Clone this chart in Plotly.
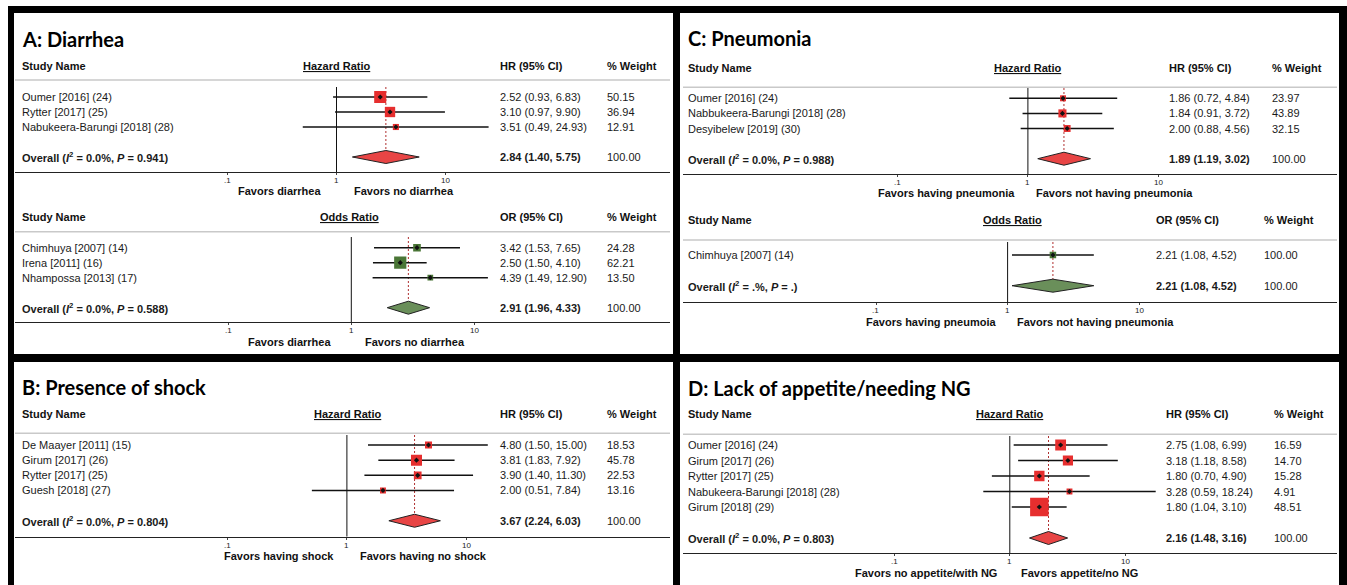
import math
import plotly.graph_objects as go

W, H = 1347, 585

# ---------------- data ----------------
# A: Diarrhea (hazard ratios)
A_HR_STUDIES = ["Oumer [2016] (24)", "Rytter [2017] (25)", "Nabukeera-Barungi [2018] (28)"]
A_HR_EST = [2.52, 3.10, 3.51]
A_HR_LO = [0.93, 0.97, 0.49]
A_HR_HI = [6.83, 9.90, 24.93]
A_HR_WT = [50.15, 36.94, 12.91]
A_HR_POOLED = [2.84, 1.40, 5.75]
A_HR_HET = ["0.0", "0.941"]

# A: Diarrhea (odds ratios)
A_OR_STUDIES = ["Chimhuya [2007] (14)", "Irena [2011] (16)", "Nhampossa [2013] (17)"]
A_OR_EST = [3.42, 2.50, 4.39]
A_OR_LO = [1.53, 1.50, 1.49]
A_OR_HI = [7.65, 4.10, 12.90]
A_OR_WT = [24.28, 62.21, 13.50]
A_OR_POOLED = [2.91, 1.96, 4.33]
A_OR_HET = ["0.0", "0.588"]

# B: Presence of shock (hazard ratios)
B_STUDIES = ["De Maayer [2011] (15)", "Girum [2017] (26)", "Rytter [2017] (25)", "Guesh [2018] (27)"]
B_EST = [4.80, 3.81, 3.90, 2.00]
B_LO = [1.50, 1.83, 1.40, 0.51]
B_HI = [15.00, 7.92, 11.30, 7.84]
B_WT = [18.53, 45.78, 22.53, 13.16]
B_POOLED = [3.67, 2.24, 6.03]
B_HET = ["0.0", "0.804"]

# C: Pneumonia (hazard ratios)
C_HR_STUDIES = ["Oumer [2016] (24)", "Nabbukeera-Barungi [2018] (28)", "Desyibelew [2019] (30)"]
C_HR_EST = [1.86, 1.84, 2.00]
C_HR_LO = [0.72, 0.91, 0.88]
C_HR_HI = [4.84, 3.72, 4.56]
C_HR_WT = [23.97, 43.89, 32.15]
C_HR_POOLED = [1.89, 1.19, 3.02]
C_HR_HET = ["0.0", "0.988"]

# C: Pneumonia (odds ratios)
C_OR_STUDIES = ["Chimhuya [2007] (14)"]
C_OR_EST = [2.21]
C_OR_LO = [1.08]
C_OR_HI = [4.52]
C_OR_WT = [100.00]
C_OR_POOLED = [2.21, 1.08, 4.52]
C_OR_HET = [".", "."]

# D: Lack of appetite / needing NG (hazard ratios)
D_STUDIES = ["Oumer [2016] (24)", "Girum [2017] (26)", "Rytter [2017] (25)",
             "Nabukeera-Barungi [2018] (28)", "Girum [2018] (29)"]
D_EST = [2.75, 3.18, 1.80, 3.28, 1.80]
D_LO = [1.08, 1.18, 0.70, 0.59, 1.04]
D_HI = [6.99, 8.58, 4.90, 18.24, 3.10]
D_WT = [16.59, 14.70, 15.28, 4.91, 48.51]
D_POOLED = [2.16, 1.48, 3.16]
D_HET = ["0.0", "0.803"]

OVERALL_WT = 100.00

TICK_VALS = [0.1, 1, 10]
TICK_TEXT = [".1", "1", "10"]

PANEL_TITLES = ["A: Diarrhea", "B: Presence of shock", "C: Pneumonia", "D: Lack of appetite/needing NG"]

PANELS = [
    dict(studies=A_HR_STUDIES, est=A_HR_EST, lo=A_HR_LO, hi=A_HR_HI, wt=A_HR_WT,
         pooled=A_HR_POOLED, het=A_HR_HET, measure="HR", ratio="Hazard Ratio",
         favors=("Favors diarrhea", "Favors no diarrhea"), scheme="red"),
    dict(studies=A_OR_STUDIES, est=A_OR_EST, lo=A_OR_LO, hi=A_OR_HI, wt=A_OR_WT,
         pooled=A_OR_POOLED, het=A_OR_HET, measure="OR", ratio="Odds Ratio",
         favors=("Favors diarrhea", "Favors no diarrhea"), scheme="green"),
    dict(studies=B_STUDIES, est=B_EST, lo=B_LO, hi=B_HI, wt=B_WT,
         pooled=B_POOLED, het=B_HET, measure="HR", ratio="Hazard Ratio",
         favors=("Favors having shock", "Favors having no shock"), scheme="red"),
    dict(studies=C_HR_STUDIES, est=C_HR_EST, lo=C_HR_LO, hi=C_HR_HI, wt=C_HR_WT,
         pooled=C_HR_POOLED, het=C_HR_HET, measure="HR", ratio="Hazard Ratio",
         favors=("Favors having pneumonia", "Favors not having pneumonia"), scheme="red"),
    dict(studies=C_OR_STUDIES, est=C_OR_EST, lo=C_OR_LO, hi=C_OR_HI, wt=C_OR_WT,
         pooled=C_OR_POOLED, het=C_OR_HET, measure="OR", ratio="Odds Ratio",
         favors=("Favors having pneumoia", "Favors not having pneumonia"), scheme="green"),
    dict(studies=D_STUDIES, est=D_EST, lo=D_LO, hi=D_HI, wt=D_WT,
         pooled=D_POOLED, het=D_HET, measure="HR", ratio="Hazard Ratio",
         favors=("Favors no appetite/with NG", "Favors appetite/no NG"), scheme="red"),
]

# ---------------- layout geometry (pixels) ----------------
GEOM = [
    dict(left=15, right=670, x1=336.5, dec=108.9, first=97, pitch=15, head=66, rule=80, top=87,
         axis=172, name_x=20, est_x=498, wt_x=605, ratio_dx=0, fav=(14, 15), box_k=1.7),
    dict(left=15, right=670, x1=351.3, dec=123.0, first=247.7, pitch=15, head=216.7, rule=231.7, top=237,
         axis=322.3, name_x=20, est_x=498, wt_x=605, ratio_dx=-2, fav=(18, 12), box_k=1.55),
    dict(left=15, right=670, x1=346.9, dec=119.8, first=445, pitch=15.15, head=414.3, rule=433.3, top=435,
         axis=536.7, name_x=20, est_x=498, wt_x=605, ratio_dx=1, fav=(11, 11), box_k=1.63),
    dict(left=683, right=1337, x1=1027.9, dec=130.4, first=98.3, pitch=15.1, head=68.3, rule=87.3, top=88,
         axis=174, name_x=686, est_x=1167, wt_x=1270, ratio_dx=0, fav=(11, 6), box_k=1.22),
    dict(left=683, right=1337, x1=1007.6, dec=131.6, first=255, pitch=15.35, head=220, rule=240, top=242,
         axis=302.3, name_x=686, est_x=1153.5, wt_x=1261.5, ratio_dx=5, fav=(10, 7), box_k=0.65),
    dict(left=683, right=1337, x1=1009.8, dec=115.7, first=445, pitch=15.5, head=414.3, rule=434.3, top=436,
         axis=553.3, name_x=686, est_x=1163.5, wt_x=1271.5, ratio_dx=0, fav=(11, 9), box_k=2.65),
]

TITLE_POS = [(20, 39), (20, 387), (686, 38.5), (686, 387.5)]

SCHEMES = {
    "red": dict(box="#E62E2E", diamond="#E84545"),
    "green": dict(box="#4A7636", diamond="#6A8F5A"),
}

BODY_FONT = "Liberation Sans, Arial, sans-serif"
TITLE_FONT = "Lato, Open Sans, sans-serif"
TEXT_COL = "#1a1a1a"


def fx(x):
    return x / W


def fy(y):
    return 1 - y / H


fig = go.Figure()
layout = dict(width=W, height=H, margin=dict(l=0, r=0, t=0, b=0),
              paper_bgcolor="white", plot_bgcolor="rgba(0,0,0,0)", showlegend=False)
shapes = []
annotations = []

for k, (p, g) in enumerate(zip(PANELS, GEOM), start=1):
    xa = "x" if k == 1 else f"x{k}"
    ya = "y" if k == 1 else f"y{k}"
    n = len(p["studies"])
    ov = n + 1
    rows = list(range(n))
    top_u = (g["top"] - g["first"]) / g["pitch"]
    bot_u = (g["axis"] - g["first"]) / g["pitch"]
    dh = 6.5 / g["pitch"]
    col = SCHEMES[p["scheme"]]

    layout["xaxis" if k == 1 else f"xaxis{k}"] = dict(
        type="log",
        range=[(g["left"] - g["x1"]) / g["dec"], (g["right"] - g["x1"]) / g["dec"]],
        domain=[fx(g["left"]), fx(g["right"])], anchor=ya,
        showgrid=False, zeroline=False, showline=True, linecolor="#222", linewidth=1.3,
        ticks="outside", ticklen=2, tickcolor="#444", tickwidth=1,
        tickvals=TICK_VALS, showticklabels=False, fixedrange=True,
    )
    layout["yaxis" if k == 1 else f"yaxis{k}"] = dict(
        range=[bot_u, top_u], domain=[fy(g["axis"]), fy(g["top"])], anchor=xa,
        visible=False, fixedrange=True,
    )

    common = dict(xaxis=xa, yaxis=ya, hoverinfo="skip", showlegend=False)

    # null line at ratio = 1
    fig.add_trace(go.Scatter(x=[1, 1], y=[top_u, bot_u], mode="lines",
                             line=dict(color="#111", width=1), **common))
    # pooled estimate reference line
    fig.add_trace(go.Scatter(x=[p["pooled"][0]] * 2, y=[top_u, ov - dh], mode="lines",
                             line=dict(color="#B03030", width=1, dash="2px,2px"), **common))
    # confidence intervals
    cx, cy = [], []
    for i in rows:
        cx += [p["lo"][i], p["hi"][i], None]
        cy += [i, i, None]
    fig.add_trace(go.Scatter(x=cx, y=cy, mode="lines", line=dict(color="#111", width=1.5), **common))
    # weight boxes
    fig.add_trace(go.Scatter(x=p["est"], y=rows, mode="markers", opacity=1,
                             marker=dict(symbol="square", color=col["box"], opacity=1,
                                         size=[g["box_k"] * math.sqrt(w) for w in p["wt"]],
                                         line=dict(width=0)), **common))
    # point estimates
    fig.add_trace(go.Scatter(x=p["est"], y=rows, mode="markers",
                             marker=dict(symbol="diamond", color="#111", size=4, opacity=1,
                                         line=dict(width=0)), **common))
    # pooled diamond
    pe, pl, ph = p["pooled"]
    fig.add_trace(go.Scatter(x=[pl, pe, ph, pe, pl], y=[ov, ov - dh, ov, ov + dh, ov],
                             mode="lines", fill="toself", fillcolor=col["diamond"],
                             line=dict(color="#222", width=1), **common))

    # axis tick labels
    tick_font = dict(family=BODY_FONT, size=8, color=TEXT_COL)
    for tv, tt in zip(TICK_VALS, TICK_TEXT):
        annotations.append(dict(text=tt, x=math.log10(tv), xref=xa, y=fy(g["axis"] + 8.5), yref="paper",
                                xanchor="center", yanchor="middle", showarrow=False, font=tick_font))

    # header row
    head_font = dict(family=BODY_FONT, size=11, color="#111")
    hy = fy(g["head"])
    hdr = [
        dict(text="<b>Study Name</b>", x=fx(g["name_x"]), xref="paper", xanchor="left"),
        dict(text=f"<b><u>{p['ratio']}</u></b>", x=0, xref=xa, xshift=g["ratio_dx"], xanchor="center"),
        dict(text=f"<b>{p['measure']} (95% CI)</b>", x=fx(g["est_x"]), xref="paper", xanchor="left"),
        dict(text="<b>% Weight</b>", x=fx(g["wt_x"]), xref="paper", xanchor="left"),
    ]
    for a in hdr:
        a.update(y=hy, yref="paper", yanchor="middle", showarrow=False, font=head_font)
    annotations += hdr

    shapes.append(dict(type="line", xref="paper", yref="paper", x0=fx(g["left"]), x1=fx(g["right"]),
                       y0=fy(g["rule"]), y1=fy(g["rule"]), line=dict(color="#c9c9c9", width=1.5)))

    # study rows
    row_font = dict(family=BODY_FONT, size=11, color=TEXT_COL)
    for i in rows:
        for txt, xpx in [(p["studies"][i], g["name_x"]),
                         (f"{p['est'][i]:.2f} ({p['lo'][i]:.2f}, {p['hi'][i]:.2f})", g["est_x"]),
                         (f"{p['wt'][i]:.2f}", g["wt_x"])]:
            annotations.append(dict(text=txt, x=fx(xpx), xref="paper", y=i, yref=ya,
                                    xanchor="left", yanchor="middle", showarrow=False, font=row_font))
    # overall row
    i2, pv = p["het"]
    for txt, xpx in [(f"<b>Overall (<i>I</i><sup>2</sup> = {i2}%, <i>P</i> = {pv})</b>", g["name_x"]),
                     (f"<b>{pe:.2f} ({pl:.2f}, {ph:.2f})</b>", g["est_x"]),
                     (f"{OVERALL_WT:.2f}", g["wt_x"])]:
        annotations.append(dict(text=txt, x=fx(xpx), xref="paper", y=ov, yref=ya,
                                xanchor="left", yanchor="middle", showarrow=False, font=row_font))

    # favours labels either side of the null line
    fav_font = dict(family=BODY_FONT, size=11, color="#111")
    fvy = fy(g["axis"] + 19.5)
    annotations += [
        dict(text=f"<b>{p['favors'][0]}</b>", x=0, xref=xa, xshift=-g["fav"][0], y=fvy, yref="paper",
             xanchor="right", yanchor="middle", showarrow=False, font=fav_font),
        dict(text=f"<b>{p['favors'][1]}</b>", x=0, xref=xa, xshift=g["fav"][1], y=fvy, yref="paper",
             xanchor="left", yanchor="middle", showarrow=False, font=fav_font),
    ]

# panel titles
for t, (tx, ty) in zip(PANEL_TITLES, TITLE_POS):
    annotations.append(dict(text=f"<b>{t}</b>", x=fx(tx), y=fy(ty), xref="paper", yref="paper",
                            xanchor="left", yanchor="middle", showarrow=False,
                            font=dict(family=TITLE_FONT, size=20, color="#000")))

# black frame around the four panels
for x0, x1, y0, y1 in [(8, 1347, 6, 13), (8, 14, 6, 585), (1339, 1347, 6, 585),
                       (673, 680, 6, 585), (8, 1347, 354, 362)]:
    shapes.append(dict(type="rect", xref="paper", yref="paper", x0=fx(x0), x1=fx(x1),
                       y0=fy(y1), y1=fy(y0), fillcolor="#000", line=dict(width=0), layer="above"))

layout["shapes"] = shapes
layout["annotations"] = annotations
fig.update_layout(**layout)
fig.write_html("out.html")
